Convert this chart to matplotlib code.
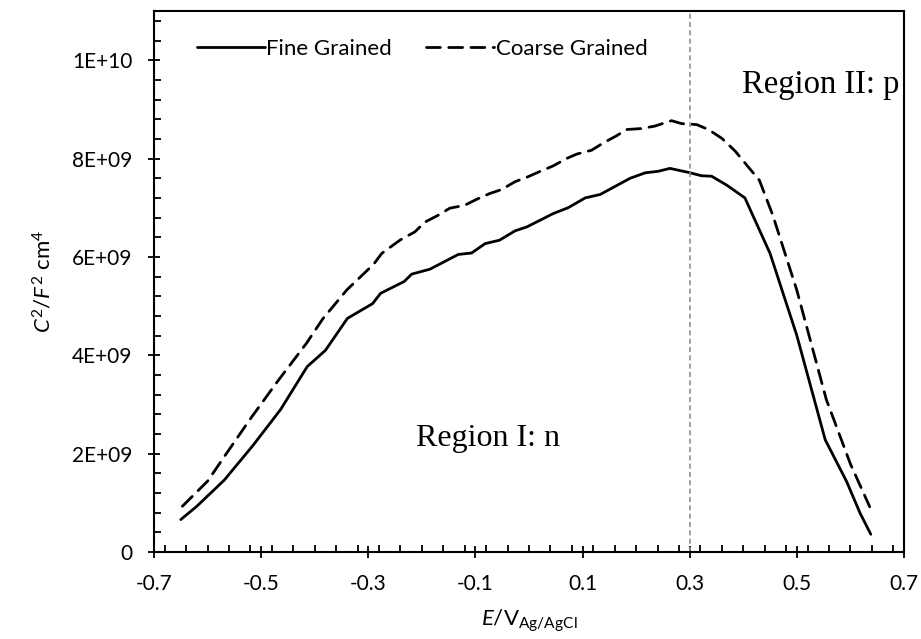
import matplotlib
matplotlib.use("Agg")
import matplotlib.pyplot as plt
from matplotlib.ticker import FixedLocator, MultipleLocator

# ---------------- data ----------------
fine_x = [-0.650, -0.620, -0.597, -0.569, -0.515, -0.4635, -0.414, -0.380, -0.339,
          -0.292, -0.277, -0.233, -0.219, -0.185, -0.132, -0.107, -0.082, -0.055,
          -0.026, -0.004, 0.045, 0.073, 0.105, 0.133, 0.189, 0.217, 0.241, 0.263,
          0.297, 0.322, 0.341, 0.369, 0.403, 0.450, 0.500, 0.553, 0.593, 0.618, 0.638]
fine_y = [0.66e9, 0.93e9, 1.17e9, 1.46e9, 2.17e9, 2.90e9, 3.77e9, 4.10e9, 4.75e9,
          5.05e9, 5.26e9, 5.50e9, 5.65e9, 5.75e9, 6.05e9, 6.08e9, 6.27e9, 6.34e9,
          6.53e9, 6.61e9, 6.88e9, 7.00e9, 7.20e9, 7.27e9, 7.60e9, 7.71e9, 7.74e9, 7.80e9,
          7.72e9, 7.65e9, 7.64e9, 7.46e9, 7.20e9, 6.07e9, 4.40e9, 2.28e9, 1.43e9, 0.79e9, 0.36e9]

coarse_x = [-0.647, -0.600, -0.570, -0.520, -0.470, -0.415, -0.385, -0.340, -0.290,
            -0.275, -0.241, -0.213, -0.194, -0.169, -0.148, -0.120, -0.098, -0.073,
            -0.051, -0.026, -0.004, 0.021, 0.045, 0.070, 0.089, 0.117, 0.139, 0.163,
            0.182, 0.210, 0.235, 0.266, 0.285, 0.313, 0.335, 0.360, 0.385, 0.410,
            0.430, 0.455, 0.500, 0.555, 0.600, 0.636]
coarse_y = [0.93e9, 1.44e9, 1.92e9, 2.71e9, 3.46e9, 4.25e9, 4.74e9, 5.33e9, 5.85e9,
            6.07e9, 6.34e9, 6.51e9, 6.71e9, 6.85e9, 6.99e9, 7.05e9, 7.17e9, 7.29e9,
            7.37e9, 7.53e9, 7.62e9, 7.74e9, 7.85e9, 8.00e9, 8.09e9, 8.17e9, 8.32e9, 8.46e9,
            8.59e9, 8.61e9, 8.66e9, 8.77e9, 8.71e9, 8.69e9, 8.59e9, 8.41e9, 8.15e9, 7.82e9,
            7.56e9, 6.85e9, 5.32e9, 3.10e9, 1.79e9, 0.92e9]

series_names = ["Fine Grained", "Coarse Grained"]
x_ticks = [-0.7, -0.5, -0.3, -0.1, 0.1, 0.3, 0.5, 0.7]
x_ticklabels = ["-0.7", "-0.5", "-0.3", "-0.1", "0.1", "0.3", "0.5", "0.7"]
y_ticks = [0, 2e9, 4e9, 6e9, 8e9, 1e10]
y_ticklabels = ["0", "2E+09", "4E+09", "6E+09", "8E+09", "1E+10"]
boundary_x = 0.3
region_labels = ["Region I: n", "Region II: p"]

# ---------------- style ----------------
plt.rcParams['font.family'] = ['Lato', 'DejaVu Sans']
plt.rcParams['mathtext.fontset'] = 'custom'
plt.rcParams['mathtext.rm'] = 'Lato'
plt.rcParams['mathtext.it'] = 'Lato:italic'

fig = plt.figure(figsize=(9.21, 6.39), dpi=100)
ax = fig.add_axes([154/921, 1 - 552/639, 750/921, 541/639])

ax.plot(fine_x, fine_y, color='black', lw=2.0, label=series_names[0],
        solid_joinstyle='round', solid_capstyle='round')
ax.plot(coarse_x, coarse_y, color='black', lw=2.0, dashes=(5.0, 3.0),
        label=series_names[1], dash_capstyle='round')

ax.axvline(boundary_x, color='#8594a8', lw=1.2, ls=(0, (3, 2)))

ax.set_xlim(-0.7, 0.7)
ax.set_ylim(0, 1.1e10)
ax.xaxis.set_major_locator(FixedLocator(x_ticks))
ax.set_xticklabels(x_ticklabels)
ax.xaxis.set_minor_locator(MultipleLocator(0.04))
ax.yaxis.set_major_locator(FixedLocator(y_ticks))
ax.set_yticklabels(y_ticklabels)
ax.yaxis.set_minor_locator(MultipleLocator(4e8))

ax.tick_params(which='major', direction='inout', length=9, width=1.3, labelsize=15)
ax.tick_params(axis='x', which='major', pad=11)
ax.tick_params(axis='y', which='major', pad=11)
ax.tick_params(which='minor', direction='in', length=5, width=1.3)
for s in ax.spines.values():
    s.set_linewidth(1.5)

ax.set_xlabel(r'$\mathit{E}$/V$_{\mathrm{Ag/AgCl}}$', fontsize=16, labelpad=10)
ax.set_ylabel(r'$\mathit{C}^2$/$\mathit{F}^2$ cm$^4$', fontsize=16, labelpad=12)

ax.text(-0.077, 2.3e9, region_labels[0], family='Liberation Serif', fontsize=23,
        ha='center', va='center')
ax.text(0.397, 9.33e9, region_labels[1], family='Liberation Serif', fontsize=23.5,
        ha='left', va='baseline')

ax.legend(loc='upper left', bbox_to_anchor=(0.03, 0.985), ncol=2, frameon=False,
          fontsize=16, handlelength=3.1, handletextpad=0.05, columnspacing=1.5)

fig.savefig('out.png', dpi=100)
